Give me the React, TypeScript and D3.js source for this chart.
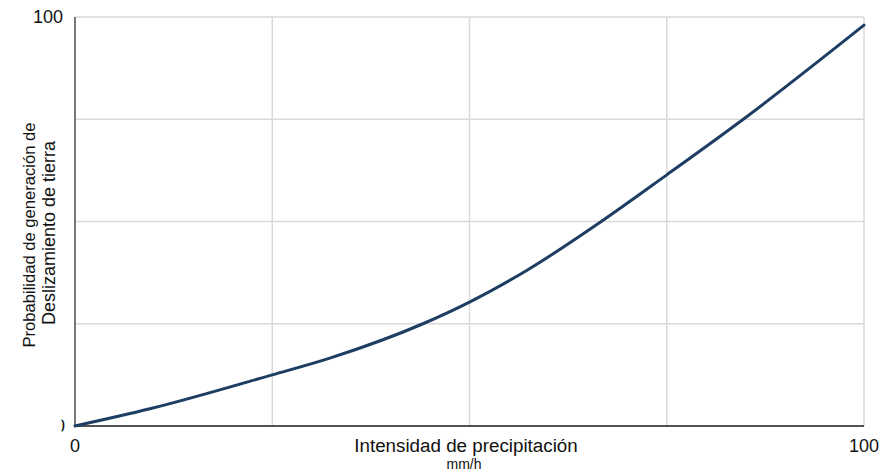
import React from "react";
import * as d3 from "d3";

const xValues = [0, 9.5, 25, 32.3, 44.1, 50, 57.3, 66.7, 75, 84.7, 100];
const yValues = [0, 4.2, 12.5, 16.6, 25, 30.3, 38.1, 50, 61.4, 75, 98];
const xTicks = [0, 25, 50, 75, 100];
const yTicks = [0, 25, 50, 75, 100];
const xTickLabels = ["0", "", "", "", "100"];
const yTickLabels = ["0", "", "", "", "100"];

const W = 893;
const H = 474;
const M = { left: 75, right: 29, top: 17, bottom: 48 };

export default function App() {
  const x = d3.scaleLinear().domain([0, 100]).range([M.left, W - M.right]);
  const y = d3.scaleLinear().domain([0, 100]).range([H - M.bottom, M.top]);
  const pts: [number, number][] = xValues.map((v, i) => [v, yValues[i]]);
  const line = d3
    .line<[number, number]>()
    .x((d) => x(d[0]))
    .y((d) => y(d[1]))
    .curve(d3.curveMonotoneX);
  const font = "'Liberation Sans', Arial, sans-serif";
  return (
    <svg
      width={W}
      height={H}
      style={{ position: "absolute", left: 0, top: 0, background: "#fff" }}
      fontFamily={font}
    >
      <defs>
        <clipPath id="y0clip">
          <rect x={61.5} y={400} width={20} height={50} />
        </clipPath>
      </defs>
      <rect width={W} height={H} fill="#fff" />
      {xTicks.map((t) => (
        <line key={"gx" + t} x1={x(t)} x2={x(t)} y1={y(0)} y2={y(100)} stroke="#d9d9d9" strokeWidth={1.5} />
      ))}
      {yTicks.map((t) => (
        <line key={"gy" + t} x1={x(0)} x2={x(100)} y1={y(t)} y2={y(t)} stroke="#d9d9d9" strokeWidth={1.5} />
      ))}
      <line x1={x(0)} x2={x(0)} y1={y(0)} y2={y(100)} stroke="#555" strokeWidth={1.5} />
      <line x1={x(0)} x2={x(100)} y1={y(0)} y2={y(0)} stroke="#222" strokeWidth={1.5} />
      <path d={line(pts) || ""} fill="none" stroke="#1d3d62" strokeWidth={3} strokeLinecap="round" />
      {xTicks.map((t, i) =>
        xTickLabels[i] ? (
          <text key={"xl" + t} x={x(t)} y={452} textAnchor="middle" fontSize={18} fill="#111">
            {xTickLabels[i]}
          </text>
        ) : null
      )}
      {yTicks.map((t, i) =>
        yTickLabels[i] ? (
          <text
            key={"yl" + t}
            x={t === 0 ? 65 : 63}
            y={y(t) + 6}
            textAnchor="end"
            fontSize={18}
            fill="#111"
            clipPath={t === 0 ? "url(#y0clip)" : undefined}
          >
            {yTickLabels[i]}
          </text>
        ) : null
      )}
      <text x={466} y={452} textAnchor="middle" fontSize={18.8} fill="#111">
        Intensidad de precipitación
      </text>
      <text x={464} y={469} textAnchor="middle" fontSize={14} fill="#111">
        mm/h
      </text>
      <g transform="translate(35,235) rotate(-90)">
        <text x={0} y={0} textAnchor="middle" fontSize={16.6} fill="#111">
          Probabilidad de generación de
        </text>
        <text x={2} y={20} textAnchor="middle" fontSize={18} fill="#111">
          Deslizamiento de tierra
        </text>
      </g>
    </svg>
  );
}
